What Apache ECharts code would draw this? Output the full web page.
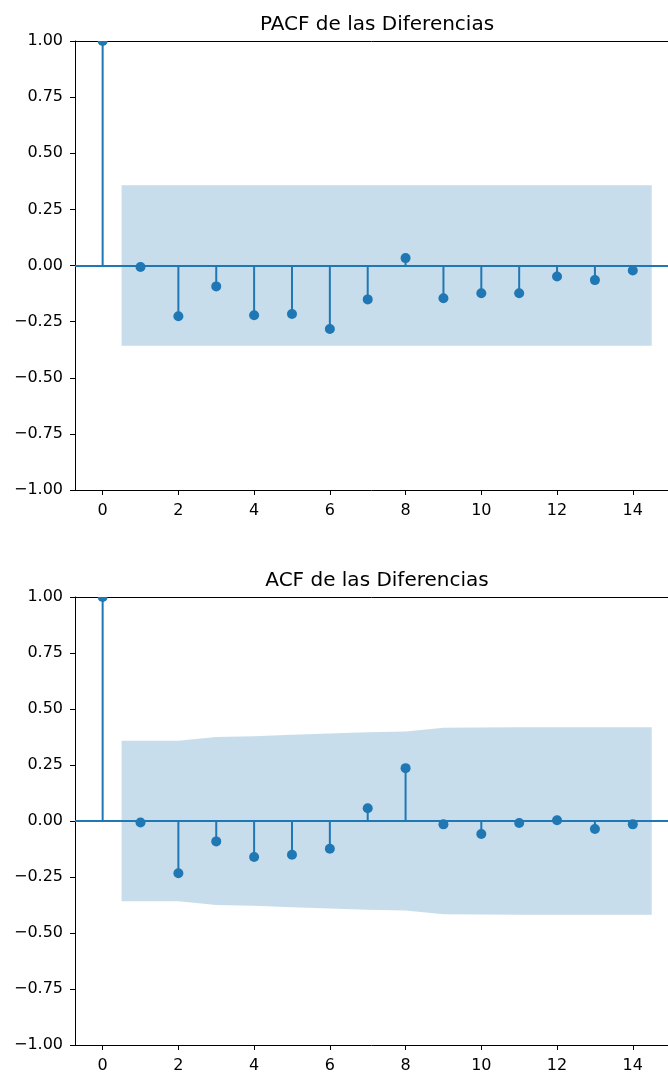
<!DOCTYPE html>
<html>
<head>
<meta charset="utf-8">
<script src="https://cdn.jsdelivr.net/npm/echarts@6/dist/echarts.min.js"></script>
<style>
html,body{margin:0;padding:0;background:#fff;}
#chart{width:668px;height:1074px;}
</style>
</head>
<body>
<div id="chart"></div>
<script>
// ---- data ----
const lags = [0,1,2,3,4,5,6,7,8,9,10,11,12,13,14];
const pacfValues = [1.0,-0.007,-0.226,-0.093,-0.222,-0.216,-0.283,-0.151,0.033,-0.146,-0.124,-0.124,-0.049,-0.065,-0.022];
const acfValues  = [1.0,-0.007,-0.233,-0.091,-0.161,-0.151,-0.124,0.057,0.236,-0.015,-0.058,-0.009,0.003,-0.036,-0.015];
const pacfBandX = [0.5,14.5];
const pacfBand  = [0.358,0.358];
const acfBandX  = [0.5,2,3,4,5,6,7,8,9,10,11,12,13,14.5];
const acfBand   = [0.358,0.358,0.375,0.378,0.385,0.391,0.396,0.399,0.416,0.417,0.418,0.418,0.418,0.418];
const xTicks = [0,2,4,6,8,10,12,14];
const yTicks = [-1,-0.75,-0.5,-0.25,0,0.25,0.5,0.75,1];
const titles = ['PACF de las Diferencias','ACF de las Diferencias'];

const BLUE = '#1f77b4';
const FONT = 'DejaVu Sans';
const chart = echarts.init(document.getElementById('chart'), null, {renderer:'canvas'});

const gridTops = [41, 597];
const gridLeft = 75, gridH = 449;
const X_MIN = -0.73, X_MAX = 14.93;   // visible part of the (cropped) x range
const TITLE_CX = 372;

function bandSeries(idx, bx, bv){
  return {
    type:'custom', xAxisIndex:idx, yAxisIndex:idx, z:1, silent:true,
    data:[[bx[0],0]],
    renderItem(params, api){
      const pts = [];
      for (let i=0;i<bx.length;i++) pts.push(api.coord([bx[i], bv[i]]));
      for (let i=bx.length-1;i>=0;i--) pts.push(api.coord([bx[i], -bv[i]]));
      return {type:'polygon', shape:{points:pts}, style:{fill:'rgba(31,119,180,0.25)'}};
    }
  };
}
function stemSeries(idx, vals){
  return {
    type:'custom', xAxisIndex:idx, yAxisIndex:idx, z:3, silent:true,
    data: lags.map((l,i)=>[l, vals[i]]),
    renderItem(params, api){
      const x = api.value(0), y = api.value(1);
      const p0 = api.coord([x,0]), p1 = api.coord([x,y]);
      const cs = params.coordSys;
      return {type:'group',
        clipPath:{type:'rect', shape:{x:cs.x, y:cs.y, width:cs.width, height:cs.height}},
        children:[
          {type:'line', shape:{x1:p0[0],y1:p0[1],x2:p1[0],y2:p1[1]}, style:{stroke:BLUE, lineWidth:2}},
          {type:'circle', shape:{cx:p1[0], cy:p1[1], r:5}, style:{fill:BLUE}}
        ]};
    }
  };
}
function zeroSeries(idx){
  return {
    type:'line', xAxisIndex:idx, yAxisIndex:idx, z:2, silent:true,
    data:[], symbol:'none',
    markLine:{silent:true, symbol:'none', animation:false, label:{show:false},
      lineStyle:{color:BLUE, width:2.2, type:'solid'}, data:[{yAxis:0}]}
  };
}

const fmtY = v => (v<0?'\u2212':'') + Math.abs(v).toFixed(2);

const bottomX = [0,1].map(i=>({
  type:'value', gridIndex:i, min:X_MIN, max:X_MAX, position:'bottom',
  axisLine:{show:true, onZero:false, lineStyle:{color:'#000', width:1}},
  axisTick:{show:true, length:5, lineStyle:{color:'#000', width:1}, customValues:xTicks},
  axisLabel:{show:true, margin:13, color:'#000', fontFamily:FONT, fontSize:16, customValues:xTicks,
    formatter:v=>String(v)},
  splitLine:{show:false}
}));
const topX = [0,1].map(i=>({
  type:'value', gridIndex:i, min:X_MIN, max:X_MAX, position:'top',
  axisLine:{show:true, onZero:false, lineStyle:{color:'#000', width:1}},
  axisTick:{show:false}, axisLabel:{show:false}, splitLine:{show:false}
}));

const option = {
  animation:false,
  backgroundColor:'#fff',
  title: titles.map((t,i)=>({
    text:t, left: TITLE_CX, top: gridTops[i]-31, textAlign:'center',
    textStyle:{fontFamily:FONT, fontSize:20, fontWeight:'normal', color:'#000'}
  })),
  grid: gridTops.map(t=>({left:gridLeft, top:t, right:0, height:gridH, show:false, containLabel:false})),
  xAxis: bottomX.concat(topX),
  yAxis: [0,1].map(i=>({
    type:'value', gridIndex:i, min:-1, max:1,
    axisLine:{show:true, onZero:false, lineStyle:{color:'#000', width:1}},
    axisTick:{show:true, length:5, lineStyle:{color:'#000', width:1}, customValues:yTicks},
    axisLabel:{show:true, margin:12, color:'#000', fontFamily:FONT, fontSize:16, customValues:yTicks,
      formatter:fmtY},
    splitLine:{show:false}
  })),
  series:[
    bandSeries(0, pacfBandX, pacfBand),
    zeroSeries(0),
    stemSeries(0, pacfValues),
    bandSeries(1, acfBandX, acfBand),
    zeroSeries(1),
    stemSeries(1, acfValues)
  ]
};
chart.setOption(option);
</script>
</body>
</html>
